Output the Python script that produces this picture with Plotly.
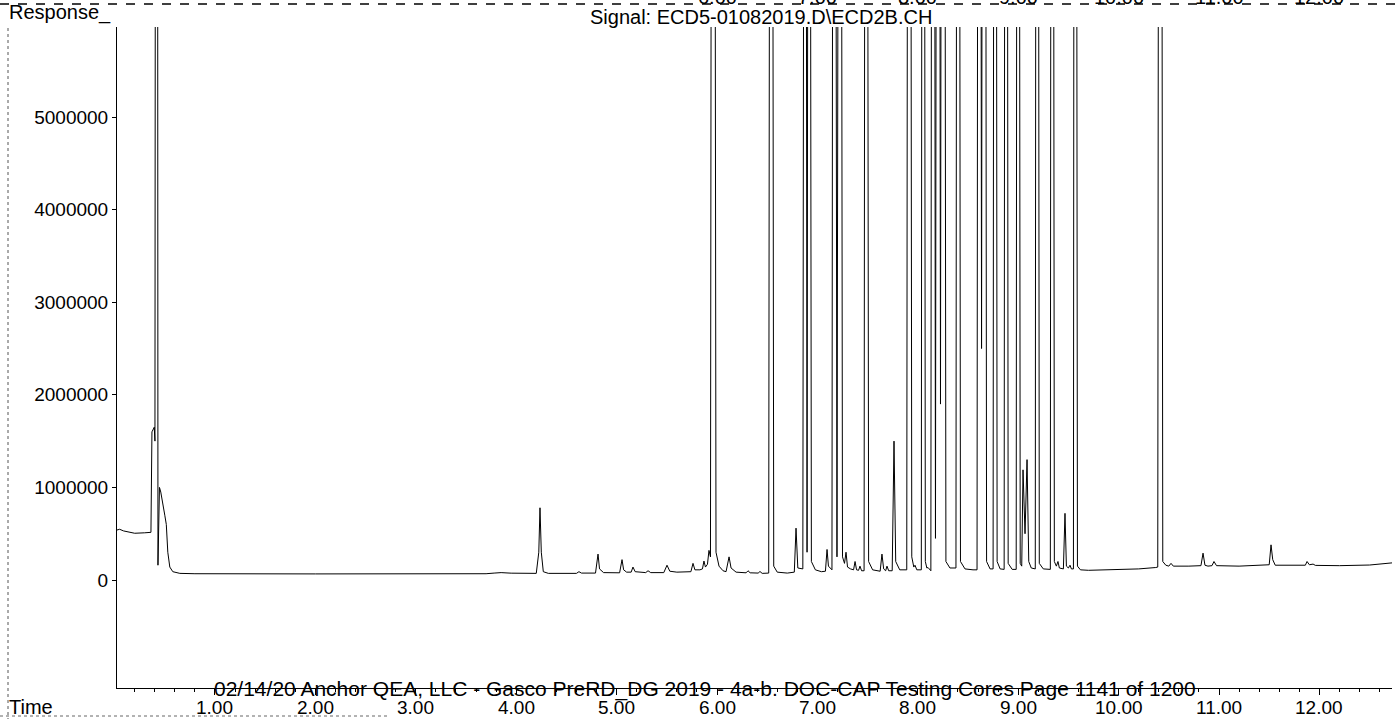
import plotly.graph_objects as go

# ---- chromatogram: [retention time (min), response] ----
solvent_front = [
    [0.024, 540000], [0.050, 548000], [0.090, 530000], [0.200, 505000],
    [0.300, 510000], [0.362, 515000], [0.372, 1600000], [0.395, 1650000],
    [0.402, 1500000], [0.420, 30000000], [0.432, 160000], [0.447, 1000000],
    [0.460, 950000], [0.480, 800000], [0.500, 700000], [0.515, 600000],
    [0.530, 300000], [0.550, 140000], [0.580, 90000], [0.650, 72000],
    [0.800, 68000],
]

region_2_to_6 = [
    [2.000, 66000], [3.000, 66000], [3.700, 68000], [3.780, 75000],
    [3.850, 80000], [3.950, 74000], [4.100, 70000], [4.200, 72000],
    [4.225, 300000], [4.237, 780000], [4.250, 300000], [4.270, 90000],
    [4.320, 72000], [4.600, 72000], [4.625, 90000], [4.650, 75000],
    [4.790, 75000], [4.815, 280000], [4.830, 120000], [4.870, 80000],
    [5.030, 78000], [5.054, 220000], [5.070, 110000], [5.100, 85000],
    [5.145, 85000], [5.163, 140000], [5.185, 90000], [5.290, 80000],
    [5.313, 100000], [5.340, 80000], [5.470, 80000], [5.502, 160000],
    [5.530, 95000], [5.600, 85000], [5.740, 90000], [5.761, 180000],
    [5.780, 110000], [5.830, 110000], [5.855, 120000], [5.870, 205000],
    [5.885, 140000], [5.905, 170000], [5.920, 320000], [5.935, 250000],
]

region_6_to_7 = [
    [5.960, 25000000], [5.990, 300000], [6.020, 150000], [6.060, 100000],
    [6.090, 90000], [6.120, 250000], [6.140, 130000], [6.190, 85000],
    [6.290, 78000], [6.309, 100000], [6.330, 78000], [6.410, 75000],
    [6.428, 92000], [6.450, 72000], [6.515, 75000], [6.538, 22000000],
    [6.565, 150000], [6.600, 85000], [6.700, 75000], [6.770, 85000],
    [6.787, 560000], [6.805, 130000], [6.855, 120000], [6.877, 20000000],
    [6.897, 300000], [6.916, 20000000], [6.940, 200000], [6.980, 110000],
]

region_7_to_8 = [
    [7.040, 90000], [7.080, 95000], [7.096, 330000], [7.110, 150000],
    [7.145, 110000], [7.165, 22000000], [7.195, 250000], [7.225, 20000000],
    [7.250, 250000], [7.270, 180000], [7.285, 300000], [7.300, 140000],
    [7.330, 120000], [7.360, 110000], [7.375, 200000], [7.390, 110000],
    [7.410, 105000], [7.424, 150000], [7.440, 100000], [7.465, 100000],
    [7.484, 22000000], [7.510, 200000], [7.550, 110000], [7.600, 95000],
    [7.625, 95000], [7.643, 280000], [7.660, 120000], [7.680, 100000],
    [7.693, 150000], [7.710, 100000], [7.745, 100000], [7.763, 1500000],
    [7.780, 200000], [7.820, 110000], [7.890, 110000], [7.912, 25000000],
    [7.940, 250000], [7.960, 140000], [7.972, 160000], [7.990, 110000],
]

region_8_to_9 = [
    [8.035, 110000], [8.052, 25000000], [8.075, 200000], [8.090, 130000],
    [8.102, 135000], [8.130, 100000], [8.151, 25000000], [8.176, 450000],
    [8.201, 25000000], [8.226, 1900000], [8.251, 25000000], [8.280, 200000],
    [8.320, 130000], [8.380, 130000], [8.400, 25000000], [8.425, 200000],
    [8.470, 120000], [8.550, 110000], [8.590, 110000], [8.610, 25000000],
    [8.635, 2500000], [8.660, 25000000], [8.685, 200000], [8.720, 120000],
    [8.750, 120000], [8.769, 25000000], [8.790, 200000], [8.820, 120000],
    [8.860, 115000], [8.878, 25000000], [8.900, 180000], [8.940, 115000],
    [8.980, 115000],
]

region_9_to_10 = [
    [8.998, 25000000], [9.020, 180000], [9.035, 150000], [9.048, 1190000],
    [9.068, 500000], [9.088, 1300000], [9.105, 200000], [9.130, 130000],
    [9.170, 120000], [9.187, 25000000], [9.210, 180000], [9.250, 120000],
    [9.320, 115000], [9.337, 25000000], [9.360, 200000], [9.380, 150000],
    [9.396, 200000], [9.410, 130000], [9.450, 120000], [9.466, 720000],
    [9.480, 150000], [9.500, 130000], [9.516, 160000], [9.530, 120000],
    [9.550, 120000], [9.566, 25000000], [9.590, 150000], [9.620, 110000],
    [9.700, 105000],
]

region_10_to_end = [
    [10.000, 110000], [10.200, 120000], [10.370, 135000], [10.390, 140000],
    [10.412, 25000000], [10.440, 200000], [10.470, 160000], [10.500, 150000],
    [10.522, 180000], [10.545, 150000], [10.700, 150000], [10.820, 155000],
    [10.841, 290000], [10.860, 160000], [10.890, 150000], [10.930, 155000],
    [10.950, 200000], [10.975, 155000], [11.200, 150000], [11.400, 155000],
    [11.500, 165000], [11.518, 380000], [11.535, 220000], [11.560, 160000],
    [11.750, 155000], [11.860, 160000], [11.877, 200000], [11.900, 165000],
    [11.937, 172000], [11.960, 158000], [12.200, 155000], [12.500, 162000],
    [12.723, 185000],
]

# ---- axes ----
x_tick_values = [1, 2, 3, 4, 5, 6, 7, 8, 9, 10, 11, 12]
x_tick_labels = ["1.00", "2.00", "3.00", "4.00", "5.00", "6.00",
                 "7.00", "8.00", "9.00", "10.00", "11.00", "12.00"]
y_tick_values = [0, 1000000, 2000000, 3000000, 4000000, 5000000]
y_tick_labels = ["0", "1000000", "2000000", "3000000", "4000000", "5000000"]
# tick labels of the previous chromatogram on the scanned page, cut by the top edge
top_cut_values = [6, 7, 8, 9, 10, 11, 12]
top_cut_labels = ["6.00", "7.00", "8.00", "9.00", "10.00", "11.00", "12.00"]

x_range = [0.024, 12.723]
y_range = [-1166000, 5972000]

signal_title = "Signal: ECD5-01082019.D\\ECD2B.CH"
footer_text = ("02/14/20 Anchor QEA, LLC - Gasco PreRD_DG 2019 - 4a-b. "
               "DOC-CAP Testing Cores Page 1141 of 1200")

points = (solvent_front + region_2_to_6 + region_6_to_7 + region_7_to_8
          + region_8_to_9 + region_9_to_10 + region_10_to_end)
time_min = [p[0] for p in points]
response = [p[1] for p in points]

FONT = "Liberation Sans, Arial, sans-serif"
W, H = 1399, 719
PLOT_LEFT, PLOT_RIGHT, PLOT_TOP, PLOT_BOTTOM = 117, 1392, 27, 688
ML, MR, MT, MB = PLOT_LEFT, W - PLOT_RIGHT, PLOT_TOP, H - PLOT_BOTTOM


def px_to_paper_x(px):
    return (px - PLOT_LEFT) / (PLOT_RIGHT - PLOT_LEFT)


def px_to_paper_y(py):
    return (PLOT_BOTTOM - py) / (PLOT_BOTTOM - PLOT_TOP)


fig = go.Figure()
fig.add_trace(go.Scatter(
    x=time_min, y=response, mode="lines",
    line=dict(color="black", width=1),
    hoverinfo="skip", showlegend=False,
))

annotations = [
    dict(text="Response_", x=px_to_paper_x(7), y=px_to_paper_y(12),
         xanchor="left", yanchor="middle", font=dict(size=20)),
    dict(text=signal_title, x=px_to_paper_x(761), y=px_to_paper_y(17),
         xanchor="center", yanchor="middle", font=dict(size=20)),
    dict(text="Time", x=px_to_paper_x(7), y=px_to_paper_y(707),
         xanchor="left", yanchor="middle", font=dict(size=20)),
    dict(text=footer_text, x=px_to_paper_x(212), y=px_to_paper_y(689),
         xanchor="left", yanchor="middle", font=dict(size=21)),
]
# x tick labels (placed just under the axis, as on the print-out)
for v, lab in zip(x_tick_values, x_tick_labels):
    annotations.append(dict(text=lab, x=v, xref="x", y=px_to_paper_y(707),
                            xanchor="center", yanchor="middle",
                            font=dict(size=19)))
for v, lab in zip(top_cut_values, top_cut_labels):
    annotations.append(dict(text=lab, x=v, xref="x", y=px_to_paper_y(-3),
                            xanchor="center", yanchor="middle",
                            font=dict(size=20)))
for a in annotations:
    a.setdefault("xref", "paper")
    a["yref"] = "paper"
    a["showarrow"] = False
    a.setdefault("font", {})
    a["font"]["family"] = FONT
    a["font"]["color"] = "black"

shapes = [
    # borders of the scanned page
    dict(type="line", xref="paper", yref="paper",
         x0=px_to_paper_x(0), x1=px_to_paper_x(W), y0=px_to_paper_y(4), y1=px_to_paper_y(4),
         line=dict(color="black", width=1.5, dash="dash")),
    dict(type="line", xref="paper", yref="paper",
         x0=px_to_paper_x(8), x1=px_to_paper_x(8), y0=px_to_paper_y(28), y1=px_to_paper_y(H),
         line=dict(color="#555555", width=1, dash="dot")),
    dict(type="line", xref="paper", yref="paper",
         x0=px_to_paper_x(0), x1=px_to_paper_x(390), y0=px_to_paper_y(716), y1=px_to_paper_y(716),
         line=dict(color="#666666", width=1, dash="dot")),
]

fig.update_layout(
    width=W, height=H, autosize=False,
    margin=dict(l=ML, r=MR, t=MT, b=MB, pad=0, autoexpand=False),
    paper_bgcolor="white", plot_bgcolor="white",
    font=dict(family=FONT, color="black", size=19),
    annotations=annotations,
    shapes=shapes,
    showlegend=False,
)
fig.update_xaxes(
    range=x_range, showgrid=False, zeroline=False, automargin=False,
    showline=True, linecolor="black", linewidth=1,
    tickmode="array", tickvals=x_tick_values, showticklabels=False,
    ticks="outside", ticklen=6, tickcolor="black", tickwidth=1,
    minor=dict(ticks="outside", tick0=0, dtick=0.2, ticklen=3, tickcolor="black"),
)
fig.update_yaxes(
    range=y_range, showgrid=False, zeroline=False, automargin=False,
    showline=True, linecolor="black", linewidth=1,
    tickmode="array", tickvals=y_tick_values, ticktext=y_tick_labels,
    ticks="outside", ticklen=4, tickcolor="black", tickwidth=1,
    tickfont=dict(size=19, family=FONT, color="black"),
)

page_fix = (
    "document.documentElement.style.margin='0';"
    "document.body.style.margin='0';document.body.style.padding='0';"
    "document.documentElement.style.overflow='hidden';document.body.style.overflow='hidden';"
)

fig.write_html(
    "out.html",
    config={"displayModeBar": False, "responsive": False},
    post_script=page_fix,
)
